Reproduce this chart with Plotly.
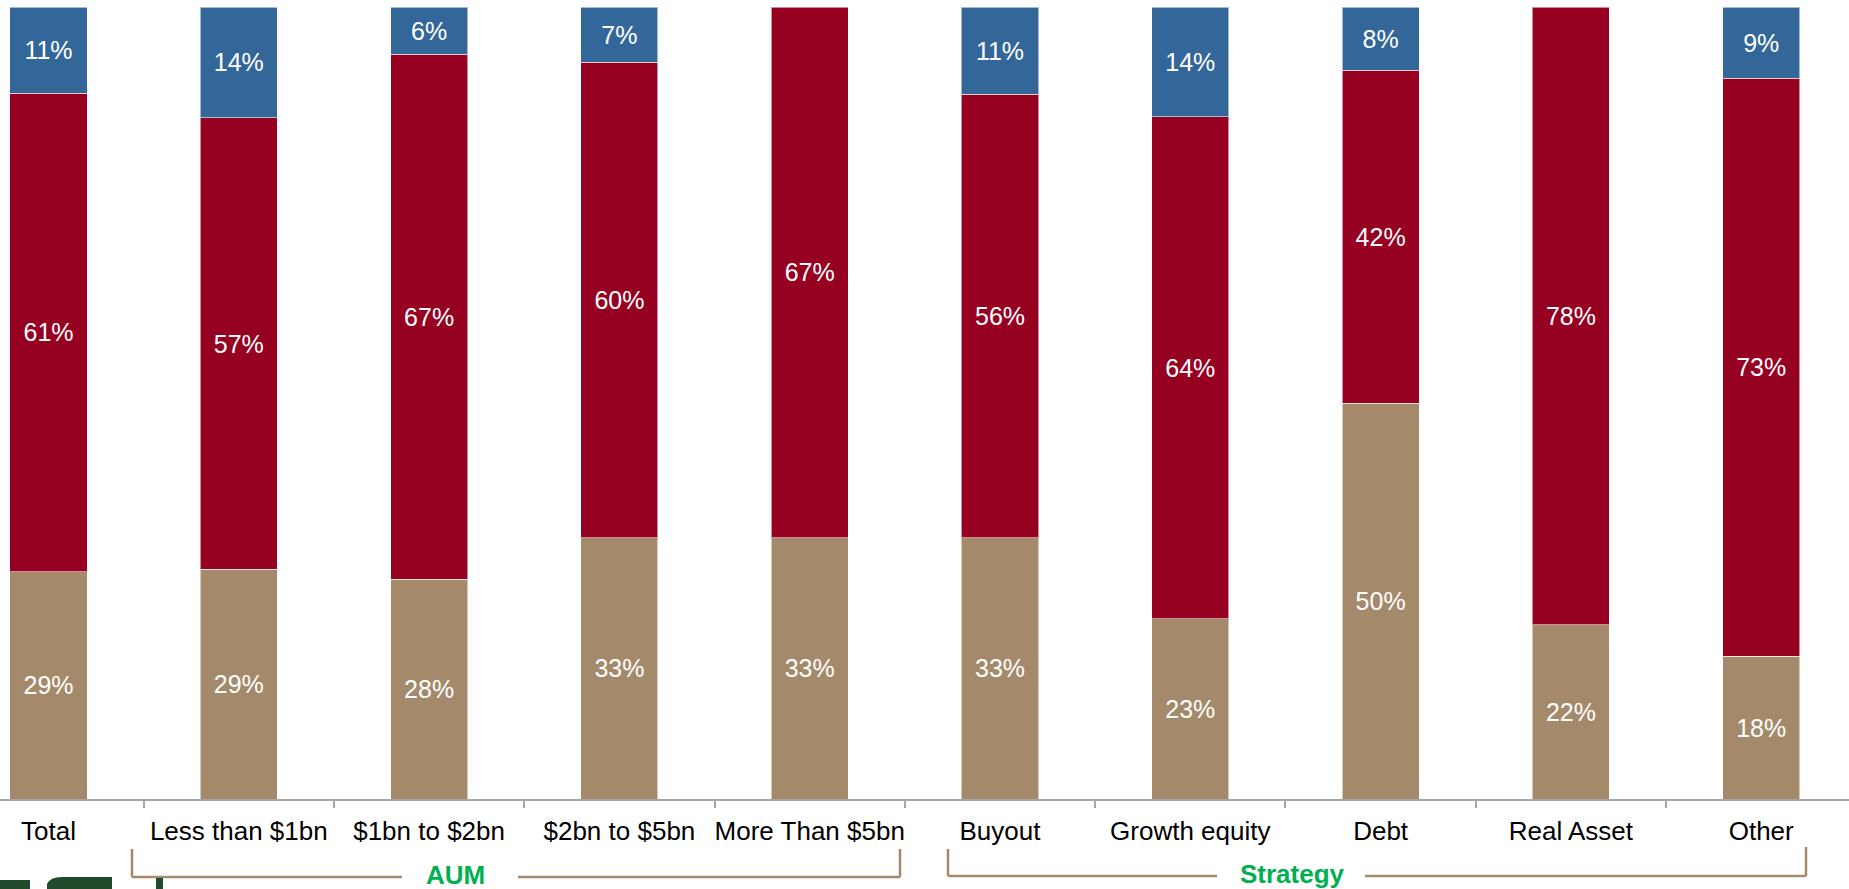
import plotly.graph_objects as go

# Share of respondents per group, stacked bottom-to-top
categories = ["Total", "Less than $1bn", "$1bn to $2bn", "$2bn to $5bn", "More Than $5bn",
              "Buyout", "Growth equity", "Debt", "Real Asset", "Other"]
brown_vals = [29, 29, 28, 33, 33, 33, 23, 50, 22, 18]
red_vals = [61, 57, 67, 60, 67, 56, 64, 42, 78, 73]
blue_vals = [11, 14, 6, 7, None, 11, 14, 8, None, 9]

group_labels = ["AUM", "Strategy"]

W, H = 1849, 889
TOP, AXIS_Y = 7, 799          # pixel rows of the 100% line and the x-axis
FONT = "Arial, Liberation Sans, sans-serif"

BROWN = "#A48A6B"
RED = "#960021"
BLUE = "#346799"
GREEN = "#00B050"
LOGO = "#1F4A2C"


def px_x(px):
    return px / W


def px_y(py):
    return (AXIS_Y - py) / (AXIS_Y - TOP)


def labels(vals):
    return ["" if v is None else f"{v}%" for v in vals]


fig = go.Figure()
for vals, color in [(brown_vals, BROWN), (red_vals, RED), (blue_vals, BLUE)]:
    fig.add_trace(go.Bar(
        x=categories, y=vals, text=labels(vals),
        textposition="inside", insidetextanchor="middle",
        textfont=dict(family=FONT, size=25, color="white"),
        marker=dict(color=color, line=dict(color="rgba(255,255,255,0.55)", width=1)),
        width=0.405, showlegend=False, hoverinfo="skip",
    ))

shapes = []
line_style = dict(color=BROWN, width=2.5)


def seg(x0, y0, x1, y1):
    shapes.append(dict(type="line", xref="paper", yref="paper",
                       x0=px_x(x0), y0=px_y(y0), x1=px_x(x1), y1=px_y(y1),
                       line=line_style, layer="above"))


# AUM bracket
seg(132, 849, 132, 877)
seg(132, 877, 402, 877)
seg(518, 877, 900, 877)
seg(900, 877, 900, 849)
# Strategy bracket
seg(948, 849, 948, 876)
seg(948, 876, 1217, 876)
seg(1365, 876, 1806, 876)
seg(1806, 876, 1806, 847)

# Partial logo at the bottom-left corner
for x0, y0, x1, y1 in [(0, 880, 30, 889), (156, 878, 163, 889)]:
    shapes.append(dict(type="rect", xref="paper", yref="paper",
                       x0=px_x(x0), y0=px_y(y0), x1=px_x(x1), y1=px_y(y1),
                       fillcolor=LOGO, line=dict(width=0)))
shapes.append(dict(type="path", xref="paper", yref="paper",
                   path=(f"M {px_x(47)},{px_y(889)} L {px_x(47)},{px_y(884)} "
                         f"Q {px_x(50)},{px_y(877)} {px_x(62)},{px_y(877)} "
                         f"L {px_x(112)},{px_y(877)} L {px_x(112)},{px_y(889)} Z"),
                   fillcolor=LOGO, line=dict(width=0)))

annotations = [
    dict(text="<b>AUM</b>", x=px_x(455), y=px_y(875), xref="paper", yref="paper",
         showarrow=False, font=dict(family=FONT, size=26, color=GREEN),
         xanchor="center", yanchor="middle"),
    dict(text="<b>Strategy</b>", x=px_x(1292), y=px_y(874), xref="paper", yref="paper",
         showarrow=False, font=dict(family=FONT, size=26, color=GREEN),
         xanchor="center", yanchor="middle"),
]

step = 190.3
x0 = -48.5 / step
x1 = x0 + W / step

fig.update_layout(
    width=W, height=H,
    margin=dict(l=0, r=0, t=TOP, b=H - AXIS_Y, pad=0, autoexpand=False),
    barmode="stack", barnorm="percent",
    plot_bgcolor="white", paper_bgcolor="white",
    uniformtext=dict(mode="show", minsize=25),
    shapes=shapes, annotations=annotations,
    xaxis=dict(
        range=[x0, x1], type="category", showgrid=False, automargin=False,
        showline=True, linecolor="#A6A6A6", linewidth=2,
        ticks="outside", tickson="boundaries", ticklen=7, tickwidth=1.5, tickcolor="#A6A6A6",
        tickangle=0, ticklabelstandoff=8,
        tickfont=dict(family=FONT, size=26, color="black"),
    ),
    yaxis=dict(range=[0, 100], visible=False, showgrid=False, zeroline=False, automargin=False),
)

fig.write_html("out.html")
